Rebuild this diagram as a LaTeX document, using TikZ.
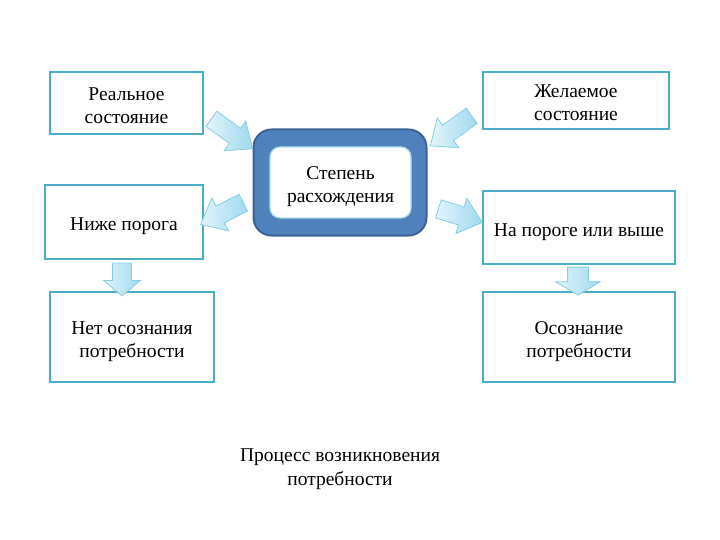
\documentclass[tikz,border=0pt]{standalone}
\usepackage{fontspec}
\setmainfont{Liberation Serif}
\usetikzlibrary{shapes.arrows}
\definecolor{boxline}{HTML}{4BACC6}
\definecolor{cfill}{HTML}{4F81BD}
\definecolor{cline}{HTML}{3A6394}
\definecolor{innerline}{HTML}{A8DCEC}
\definecolor{arrlight}{HTML}{E2F5FC}
\definecolor{arrdark}{HTML}{9ED9EE}
\definecolor{arrline}{HTML}{86CDE6}
\newcommand\txtlines[1]{\raisebox{-4pt}[\height][\depth]{\begin{tabular}{@{}c@{}}#1\end{tabular}}}
\tikzset{
  box/.style={draw=boxline, line width=1.6pt, fill=white, font=\fontsize{19.5}{23}\selectfont, inner sep=0pt},
  barrow/.style={single arrow, draw=arrline, line width=0.8pt, left color=arrlight, right color=arrdark, inner xsep=0pt}
}
\begin{document}
\begin{tikzpicture}[x=1pt,y=-1pt]
\useasboundingbox (0,0) rectangle (720,540);
% boxes
\node[box, minimum width=153pt, minimum height=62pt] (real) at (126.5,103) {\txtlines{Реальное\\состояние}};
\node[box, minimum width=186pt, minimum height=57pt] (want) at (576,100.5) {\txtlines{Желаемое\\состояние}};
\node[box, minimum width=158pt, minimum height=74pt] (below) at (124,222) {\txtlines{Ниже порога}};
\node[box, minimum width=192pt, minimum height=73pt] (above) at (579,227.5) {\txtlines{На пороге или выше}};
\node[box, minimum width=164pt, minimum height=90pt] (noaw) at (132,337) {\txtlines{Нет осознания\\потребности}};
\node[box, minimum width=192pt, minimum height=90pt] (aw) at (579,337) {\txtlines{Осознание\\потребности}};
% centre
\node[draw=cline, line width=2pt, fill=cfill, rounded corners=18pt, minimum width=173pt, minimum height=106pt] (outer) at (340,182.5) {};
\node[draw=innerline, line width=1.2pt, fill=white, rounded corners=10pt, minimum width=141pt, minimum height=71pt, font=\fontsize{19.5}{23}\selectfont, inner sep=0pt] (inner) at (340.5,182.5) {\txtlines{Степень\\расхождения}};
% block arrows
\node[barrow, minimum height=51pt, inner ysep=9pt, single arrow head extend=9pt, single arrow tip angle=80, rotate=-36] (a1) at (227.5,130.5) {};
\node[barrow, minimum height=51pt, inner ysep=9pt, single arrow head extend=9pt, single arrow tip angle=80, rotate=-144] (a2) at (455.5,127.5) {};
\node[barrow, minimum height=48pt, inner ysep=9pt, single arrow head extend=9pt, single arrow tip angle=80, rotate=-153] (a3) at (227,211) {};
\node[barrow, minimum height=46pt, inner ysep=9pt, single arrow head extend=9pt, single arrow tip angle=80, rotate=-17] (a4) at (455,214) {};
\node[barrow, minimum height=33pt, inner ysep=9pt, single arrow head extend=9pt, single arrow tip angle=100, rotate=-90] (a5) at (122,275.5) {};
\node[barrow, minimum height=28pt, inner ysep=10pt, single arrow head extend=12pt, single arrow tip angle=118, rotate=-90] (a6) at (578,278) {};
% caption
\node[font=\fontsize{19.5}{24}\selectfont, inner sep=0pt] (cap) at (340,465) {\txtlines{Процесс возникновения\\потребности}};
\end{tikzpicture}
\end{document}
